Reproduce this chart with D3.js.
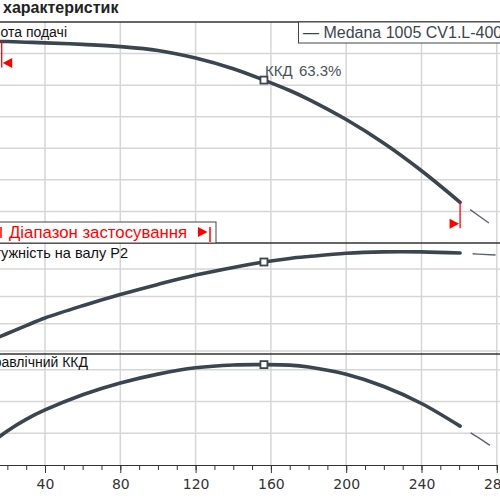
<!DOCTYPE html>
<html>
<head>
<meta charset="utf-8">
<script src="https://cdn.jsdelivr.net/npm/d3@7/dist/d3.min.js"></script>
<style>
body{margin:0;background:#fff;}
svg{display:block;font-family:"Liberation Sans",Arial,sans-serif;}
</style>
</head>
<body>
<svg></svg>
<script>
// flow values (x axis) shared by all three curves
var flowQ=[0,10,20,30,40,60,80,100,120,140,156.3,170,180,200,220,240,260.5];
var headH=[64.0,63.9,63.8,63.6,63.4,62.9,62.2,61.0,58.6,55.2,51.6,48.3,45.5,39.1,31.6,22.9,12.9];
var powerP2=[2.05,2.35,2.64,2.93,3.21,3.66,4.07,4.44,4.78,5.06,5.26,5.39,5.46,5.58,5.63,5.63,5.59];
var effEta=[3,12.5,21.5,28.8,34.7,44.3,51.7,57.3,61.3,63.1,63.3,63.0,61.8,57.2,49.5,38.8,24.5];
// continuation outside of the range (dashed)
var extQ=[260.5,270,282];
var extHead=[12.9,8.8,3.7];
var extPower=[5.59,5.55,5.51];
var extEff=[24.5,17.4,8.0];
// duty point, range limits
var dutyQ=156.3;
var dutyText=["ККД","63.3%"];
var rangeQ=[17,260.5];
// ticks
var qTicks=[0,40,80,120,160,200,240,280];
var headTicks=[10,20,30,40,50,60];
var powerTicks=[2,3,4,5];
var effTicks=[20,40,60];
var legendText="— Medana 1005 CV1.L-400";

var svg=d3.select("svg").attr("width",500).attr("height",500);
var lineColor="#3b4550";
var gridColor="#d6d6d6";

var xScale=d3.scaleLinear().domain([0,280]).range([-30.3,496.8]);
var headScale=d3.scaleLinear().domain([0,70]).range([243,22]);
var powerScale=d3.scaleLinear().domain([1.89,5.956]).range([354,243]);
var effScale=d3.scaleLinear().domain([0,70]).range([465,354]);

var panels=[
  {name:"Висота подачі",scale:headScale,ticks:headTicks,vals:headH,ext:extHead,lx:67,ly:37,fs:14},
  {name:"Потужність на валу P2",scale:powerScale,ticks:powerTicks,vals:powerP2,ext:extPower,lx:128,ly:258,fs:14.5},
  {name:"Гідравлічний ККД",scale:effScale,ticks:effTicks,vals:effEta,ext:extEff,lx:88,ly:367,fs:14}
];

// vertical grid
svg.append("g").selectAll("line")
   .data(qTicks)
   .enter()
   .append("line")
   .attr("x1",function(d){return xScale(d);})
   .attr("x2",function(d){return xScale(d);})
   .attr("y1",22)
   .attr("y2",465)
   .attr("stroke",gridColor)
   .attr("stroke-width",1.5);

panels.forEach(function(p){
  var g=svg.append("g");
  g.selectAll("line.h")
   .data(p.ticks)
   .enter()
   .append("line")
   .attr("x1",0).attr("x2",500)
   .attr("y1",function(d){return p.scale(d);})
   .attr("y2",function(d){return p.scale(d);})
   .attr("stroke",gridColor)
   .attr("stroke-width",1.5);

  var line=d3.line()
             .x(function(d,i){return xScale(flowQ[i]);})
             .y(function(d){return p.scale(d);})
             .curve(d3.curveCatmullRom);
  var extLine=d3.line()
             .x(function(d,i){return xScale(extQ[i]);})
             .y(function(d){return p.scale(d);});
  g.append("path")
   .attr("d",extLine(p.ext))
   .attr("fill","none")
   .attr("stroke","#5a636d")
   .attr("stroke-width",1.4)
   .attr("stroke-dasharray","0,12.5,23,300");
  g.append("path")
   .attr("d",line(p.vals))
   .attr("fill","none")
   .attr("stroke",lineColor)
   .attr("stroke-width",3.6)
   .attr("stroke-linecap","round");

  var di=flowQ.indexOf(dutyQ);
  g.append("rect")
   .attr("x",xScale(dutyQ)-3.5)
   .attr("y",p.scale(p.vals[di])-3.5)
   .attr("width",7).attr("height",7)
   .attr("fill","#fff")
   .attr("stroke",lineColor)
   .attr("stroke-width",1.8);

  g.append("text")
   .attr("x",p.lx).attr("y",p.ly)
   .attr("text-anchor","end")
   .attr("font-size",p.fs)
   .attr("fill","#111")
   .text(p.name);
});

// panel borders
svg.append("g").selectAll("line")
   .data([22,243,354])
   .enter()
   .append("line")
   .attr("x1",0).attr("x2",500)
   .attr("y1",function(d){return d;})
   .attr("y2",function(d){return d;})
   .attr("stroke","#333")
   .attr("stroke-width",1.3);

// x axis
var minorAxis=d3.axisBottom(xScale).tickValues(d3.range(0,290,10)).tickSize(5).tickFormat("");
var majorAxis=d3.axisBottom(xScale).tickValues(qTicks).tickSize(8).tickPadding(6);
svg.append("g").attr("transform","translate(0,465)").call(minorAxis)
   .call(function(g){g.selectAll("line,path").attr("stroke","#333");});
svg.append("g").attr("transform","translate(0,465)").call(majorAxis)
   .call(function(g){
     g.select(".domain").remove();
     g.selectAll("line").attr("stroke","#333");
     g.selectAll("text").attr("font-size",14).attr("fill","#333")
      .attr("font-family","DejaVu Sans");
   });

// duty point label
var dx=xScale(dutyQ), dy=headScale(headH[flowQ.indexOf(dutyQ)]);
svg.append("text").attr("x",dx+1).attr("y",dy-4)
   .attr("font-size",15).attr("fill","#4a535d")
   .text(dutyText[0]);
svg.append("text").attr("x",dx+35).attr("y",dy-4)
   .attr("font-size",15).attr("fill","#4a535d")
   .text(dutyText[1]);

// range markers
var rangeG=svg.append("g").attr("fill","#ff0000").attr("stroke","#ff0000");
rangeQ.forEach(function(q,i){
  var hi=i==0?headH[1]+(headH[2]-headH[1])*((q-10)/10):headH[headH.length-1];
  var x=xScale(q), y=headScale(hi);
  rangeG.append("line").attr("x1",x).attr("x2",x).attr("y1",y).attr("y2",y+26).attr("stroke-width",1.3);
  var s=i==0?1:-1;
  rangeG.append("path")
        .attr("stroke","none")
        .attr("d","M"+(x+s*1)+","+(y+21.5)+"L"+(x+s*10.5)+","+(y+16.5)+"L"+(x+s*10.5)+","+(y+26.5)+"Z");
});

// application range box
var box=svg.append("g");
box.append("rect").attr("x",-20).attr("y",222).attr("width",236).attr("height",21)
   .attr("fill","#fff").attr("stroke","#444").attr("stroke-width",1);
box.append("text").attr("x",9).attr("y",238).attr("font-size",16.8).attr("fill","#ff0000")
   .text("Діапазон застосування");
box.append("path").attr("fill","#ff0000").attr("d","M198,227L207.5,232L198,237Z");
box.append("line").attr("x1",210).attr("x2",210).attr("y1",227).attr("y2",242)
   .attr("stroke","#ff0000").attr("stroke-width",1.5);
box.append("line").attr("x1",1).attr("x2",1).attr("y1",227).attr("y2",238)
   .attr("stroke","#ff0000").attr("stroke-width",1.5);

// legend
svg.append("rect").attr("x",298.5).attr("y",22).attr("width",220).attr("height",21)
   .attr("fill","#fff").attr("stroke","#444").attr("stroke-width",1);
svg.append("text").attr("x",303).attr("y",38).attr("font-size",16).attr("fill","#3b4550")
   .text(legendText);

// title
svg.append("text").attr("x",3).attr("y",13).attr("font-size",16).attr("font-weight","bold")
   .attr("fill","#222").text("характеристик");
</script>
</body>
</html>
